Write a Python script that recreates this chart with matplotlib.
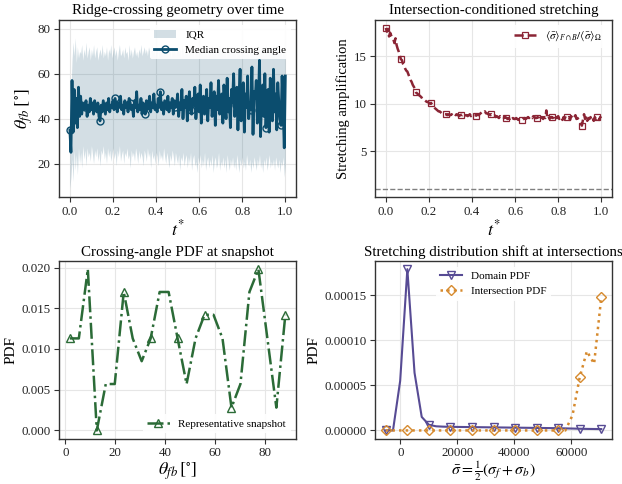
import numpy as np
import matplotlib
matplotlib.use("Agg")
import matplotlib.pyplot as plt
from matplotlib.ticker import FormatStrFormatter

# ---- panel (a): crossing angle vs time, t* step 0.005 ----
t_star = np.linspace(0.0, 1.0, 201)
t_ticks = [0.0, 0.2, 0.4, 0.6, 0.8, 1.0]

median_angle = [
    35, 25, 57, 34, 53, 38, 49, 36, 54, 41,
    50, 42, 47, 44, 45, 48, 41, 46, 43, 49,
    44, 47, 42, 48, 45, 43, 47, 41, 39, 46,
    43, 48, 45, 42, 47, 44, 49, 43, 46, 45,
    48, 44, 49, 46, 43, 47, 45, 50, 44, 46,
    42, 48, 45, 47, 43, 49, 47, 44, 46, 41,
    48, 45, 52, 43, 46, 44, 49, 42, 47, 45,
    42, 48, 44, 46, 50, 43, 47, 45, 51, 44,
    46, 43, 49, 45, 52, 44, 47, 42, 48, 46,
    44, 50, 43, 47, 45, 49, 42, 48, 45, 46,
    51, 41, 47, 44, 53, 40, 48, 45, 50, 39,
    47, 52, 44, 42, 49, 46, 54, 40, 47, 51,
    43, 55, 38, 48, 50, 42, 46, 53, 39, 49,
    45, 56, 41, 47, 52, 37, 50, 44, 57, 42,
    45, 51, 38, 55, 46, 40, 58, 43, 49, 36,
    53, 47, 60, 41, 46, 54, 35, 50, 62, 39,
    48, 56, 34, 51, 45, 59, 40, 47, 44, 63,
    33, 52, 49, 57, 38, 46, 66, 32, 50, 55,
    41, 60, 36, 48, 53, 34, 58, 45, 39, 62,
    43, 51, 35, 56, 47, 40, 37, 59, 44, 27,
    59,
]

iqr_high = [
    38, 52, 66, 74, 68, 76, 65, 72, 67, 70,
    69, 73, 66, 71, 68, 74, 67, 70, 72, 66,
    71, 68, 73, 67, 70, 72, 66, 69, 71, 68,
    73, 67, 70, 68, 72, 66, 71, 69, 73, 67,
    70, 72, 68, 71, 66, 70, 73, 68, 69, 71,
    67, 72, 69, 70, 66, 73, 68, 71, 67, 70,
    72, 68, 70, 67, 71, 69, 73, 68, 70, 72,
    69, 71, 68, 72, 70, 67, 73, 69, 71, 68,
    70, 72, 67, 71, 69, 73, 68, 70, 72, 69,
    71, 68, 73, 70, 67, 72, 69, 71, 68, 70,
    72, 69, 71, 67, 73, 70, 68, 72, 69, 71,
    68, 73, 70, 69, 72, 67, 71, 70, 73, 68,
    70, 72, 69, 71, 67, 73, 70, 68, 72, 69,
    71, 68, 73, 70, 69, 72, 67, 71, 70, 73,
    69, 71, 68, 72, 70, 67, 73, 69, 71, 68,
    72, 70, 69, 73, 67, 71, 70, 72, 68, 71,
    69, 73, 70, 68, 72, 71, 67, 70, 73, 69,
    71, 68, 72, 70, 69, 73, 67, 71, 70, 72,
    68, 71, 73, 69, 70, 72, 67, 71, 69, 73,
    70, 68, 72, 71, 69, 73, 70, 67, 71, 69,
    66,
]

iqr_low = [
    9, 14, 22, 12, 26, 17, 24, 15, 27, 20,
    25, 18, 28, 22, 26, 19, 27, 23, 25, 21,
    28, 24, 20, 26, 23, 27, 21, 25, 19, 26,
    24, 28, 22, 25, 20, 27, 23, 26, 21, 24,
    27, 22, 25, 19, 26, 23, 28, 21, 24, 26,
    20, 25, 23, 27, 22, 24, 18, 26, 23, 25,
    21, 27, 24, 20, 26, 22, 25, 23, 19, 26,
    24, 21, 27, 23, 25, 18, 26, 22, 24, 20,
    25, 23, 19, 26, 22, 24, 21, 27, 23, 20,
    25, 22, 18, 24, 21, 26, 23, 19, 25, 22,
    20, 24, 17, 23, 21, 25, 19, 22, 24, 18,
    23, 20, 25, 17, 22, 24, 19, 21, 16, 23,
    20, 24, 18, 22, 19, 25, 17, 21, 23, 18,
    22, 19, 24, 16, 21, 23, 18, 20, 25, 17,
    21, 19, 23, 18, 22, 16, 24, 20, 17, 22,
    19, 23, 18, 21, 17, 24, 20, 16, 22, 19,
    23, 18, 21, 17, 24, 20, 19, 22, 16, 21,
    18, 23, 20, 17, 22, 19, 24, 18, 21, 16,
    22, 19, 23, 17, 20, 24, 18, 21, 19, 22,
    17, 23, 20, 18, 22, 16, 21, 19, 23, 14,
    20,
]

# ---- panel (b): stretching amplification vs time ----
amplification = [
    18.0, 17.6, 17.9, 17.1, 17.5, 17.2, 17.0, 16.8, 16.4, 16.9,
    16.2, 15.8, 15.5, 15.1, 14.7, 14.6, 14.2, 14.0, 13.7, 13.5,
    13.4, 13.1, 12.8, 12.5, 12.3, 12.0, 11.8, 11.6, 11.2, 11.1,
    11.0, 10.9, 10.8, 10.7, 10.5, 10.4, 10.4, 10.3, 10.2, 10.2,
    10.1, 10.0, 10.1, 9.9, 9.7, 9.6, 9.5, 9.4, 9.3, 9.2,
    9.2, 9.1, 9.0, 9.0, 8.9, 8.9, 8.9, 8.8, 8.9, 8.8,
    8.8, 8.9, 8.8, 8.7, 8.9, 8.8, 8.9, 8.8, 8.7, 8.8,
    8.85, 8.8, 8.9, 8.7, 8.8, 8.8, 8.7, 8.8, 8.9, 8.7,
    8.8, 8.7, 8.8, 8.8, 8.75, 8.9, 8.8, 8.9, 9.0, 9.1,
    9.2, 9.1, 9.2, 9.0, 9.0, 8.9, 8.9, 8.8, 8.9, 8.8,
    8.7, 8.8, 8.6, 8.7, 8.6, 8.5, 8.7, 8.6, 8.5, 8.6,
    8.5, 8.6, 8.5, 8.4, 8.5, 8.4, 8.6, 8.4, 8.5, 8.4,
    8.4, 8.5, 8.4, 8.3, 8.4, 8.3, 8.3, 8.4, 8.4, 8.5,
    8.4, 8.5, 8.6, 8.5, 8.7, 8.6, 8.5, 8.7, 8.6, 8.5,
    8.5, 8.6, 8.4, 8.7, 8.5, 8.6, 8.4, 8.6, 8.5, 9.3,
    8.5, 8.7, 8.4, 8.6, 8.6, 8.5, 8.7, 8.4, 8.6, 8.5,
    8.7, 8.4, 8.6, 8.5, 8.3, 8.6, 8.4, 8.7, 8.6, 8.5,
    8.6, 8.3, 8.7, 8.5, 8.4, 8.6, 8.8, 8.4, 8.5, 8.3,
    8.2, 8.0, 7.7, 8.3, 8.9, 8.4, 8.7, 8.2, 8.5, 8.4,
    8.6, 8.3, 8.5, 8.2, 8.6, 8.4, 8.6, 8.5, 8.3, 8.6,
    8.5,
]
baseline = 1.0

# ---- panel (c): crossing-angle PDF at one snapshot ----
angle_bins = np.linspace(1.8, 88.2, 25)
angle_pdf = [
    0.0113, 0.0113, 0.0198, 0.0000, 0.0057, 0.0057, 0.0170, 0.0113,
    0.0085, 0.0113, 0.0170, 0.0170, 0.0113, 0.0057, 0.0113, 0.0142,
    0.0142, 0.0113, 0.0028, 0.0057, 0.0170, 0.0198, 0.0113, 0.0028,
    0.0142,
]

# ---- panel (d): stretching PDFs ----
sigma_bins = np.linspace(-5130, 70500, 31)
sigma_ticks = [0, 20000, 40000, 60000]
domain_pdf = [
    0.0, 0.0, 5.5e-5, 1.79e-4, 6.4e-5, 1.5e-5, 6.3e-6, 4.6e-6, 4.2e-6,
    4.0e-6, 3.9e-6, 3.8e-6, 3.7e-6, 3.6e-6, 3.5e-6, 3.4e-6, 3.3e-6,
    3.2e-6, 3.1e-6, 3.0e-6, 2.9e-6, 2.8e-6, 2.7e-6, 2.6e-6, 2.5e-6,
    2.3e-6, 2.1e-6, 1.9e-6, 1.7e-6, 1.6e-6, 1.5e-6,
]
intersection_pdf = [
    0.0, 0.0, 0.0, 0.0, 0.0, 0.0, 0.0, 0.0, 0.0, 0.0, 0.0, 0.0, 0.0,
    0.0, 0.0, 0.0, 0.0, 0.0, 0.0, 0.0, 0.0, 0.0, 0.0, 0.0, 0.0, 0.0,
    1.7e-5, 5.9e-5, 8.8e-5, 7.4e-5, 1.476e-4,
]

C_MEDIAN = "#0b4d6e"
C_AMP = "#8b2535"
C_SNAP = "#2b6b37"
C_DOMAIN = "#574b94"
C_INTER = "#d68a2e"


def style_axes(ax):
    ax.set_facecolor("white")
    ax.grid(True, color="#e6e6e6", linewidth=0.8)
    ax.set_axisbelow(True)
    for s in ax.spines.values():
        s.set_color("#333333")
        s.set_linewidth(1.0)
    ax.tick_params(direction="out", length=3.5, width=0.8, pad=2.5,
                   colors="#333333", labelsize=9.3, labelcolor="#222222")


def legend(ax, loc):
    return ax.legend(loc=loc, fontsize=8, frameon=True, framealpha=0.9,
                     facecolor="white", edgecolor="none")


def main() -> None:
    plt.rcParams["font.family"] = "serif"
    plt.rcParams["font.serif"] = ["Liberation Serif", "DejaVu Serif"]
    plt.rcParams["mathtext.fontset"] = "stix"

    fig, axes = plt.subplots(2, 2, figsize=(6.22, 4.84), dpi=100)
    fig.subplots_adjust(left=0.095, right=0.984, top=0.959, bottom=0.094,
                        wspace=0.333, hspace=0.36)
    ax1, ax2, ax3, ax4 = axes.ravel()

    # (a)
    style_axes(ax1)
    ax1.fill_between(t_star, iqr_low, iqr_high, color=C_MEDIAN, alpha=0.18,
                     linewidth=0, label="IQR")
    ax1.plot(t_star, median_angle, "-o", color=C_MEDIAN, lw=2.0, ms=5,
             mfc="none", mew=1.0, markevery=14, label="Median crossing angle")
    ax1.set_ylim(5, 84)
    ax1.set_xticks(t_ticks)
    ax1.set_xlabel(r"$t^{*}$", fontsize=13, labelpad=1)
    ax1.set_ylabel(r"$\theta_{fb}\;[^{\circ}]$", fontsize=13, labelpad=2)
    ax1.set_title("Ridge-crossing geometry over time", fontsize=10.8, pad=4)
    legend(ax1, "upper right")

    # (b)
    style_axes(ax2)
    ax2.plot(t_star, amplification, "--s", color=C_AMP, lw=1.8, ms=5,
             mfc="none", mew=0.9, markevery=14,
             label=r"$\langle\bar{\sigma}\rangle_{F\cap B}/\langle\bar{\sigma}\rangle_{\Omega}$")
    ax2.axhline(baseline, color="#808080", ls="--", lw=1.0)
    ax2.set_xticks(t_ticks)
    ax2.set_yticks([5, 10, 15])
    ax2.set_xlabel(r"$t^{*}$", fontsize=13, labelpad=1)
    ax2.set_ylabel("Stretching amplification", fontsize=10.5, labelpad=3)
    ax2.set_title("Intersection-conditioned stretching", fontsize=10.8, pad=4)
    legend(ax2, "upper right")

    # (c)
    style_axes(ax3)
    ax3.plot(angle_bins, angle_pdf, "-.^", color=C_SNAP, lw=1.8, ms=5.5,
             mfc="none", mew=1.0, markevery=3, label="Representative snapshot")
    ax3.yaxis.set_major_formatter(FormatStrFormatter("%.3f"))
    ax3.set_xlabel(r"$\theta_{fb}\,[^{\circ}]$", fontsize=13, labelpad=1)
    ax3.set_ylabel("PDF", fontsize=11, labelpad=3)
    ax3.set_title("Crossing-angle PDF at snapshot", fontsize=10.8, pad=4)
    legend(ax3, "lower right")

    # (d)
    style_axes(ax4)
    ax4.plot(sigma_bins, domain_pdf, "-v", color=C_DOMAIN, lw=1.5, ms=5.5,
             mfc="none", mew=1.0, markevery=3, label="Domain PDF")
    ax4.plot(sigma_bins, intersection_pdf, ":D", color=C_INTER, lw=1.8, ms=5,
             mfc="none", mew=1.0, markevery=3, label="Intersection PDF")
    ax4.yaxis.set_major_formatter(FormatStrFormatter("%.5f"))
    ax4.set_xticks(sigma_ticks)
    ax4.set_xlabel(r"$\bar{\sigma}=\frac{1}{2}(\sigma_f+\sigma_b)$",
                   fontsize=11.5, labelpad=0)
    ax4.set_ylabel("PDF", fontsize=11, labelpad=3)
    ax4.set_title("Stretching distribution shift at intersections",
                  fontsize=10.8, pad=4)
    legend(ax4, "upper center")

    fig.savefig("out.png", dpi=100)
    plt.close(fig)


if __name__ == "__main__":
    main()
